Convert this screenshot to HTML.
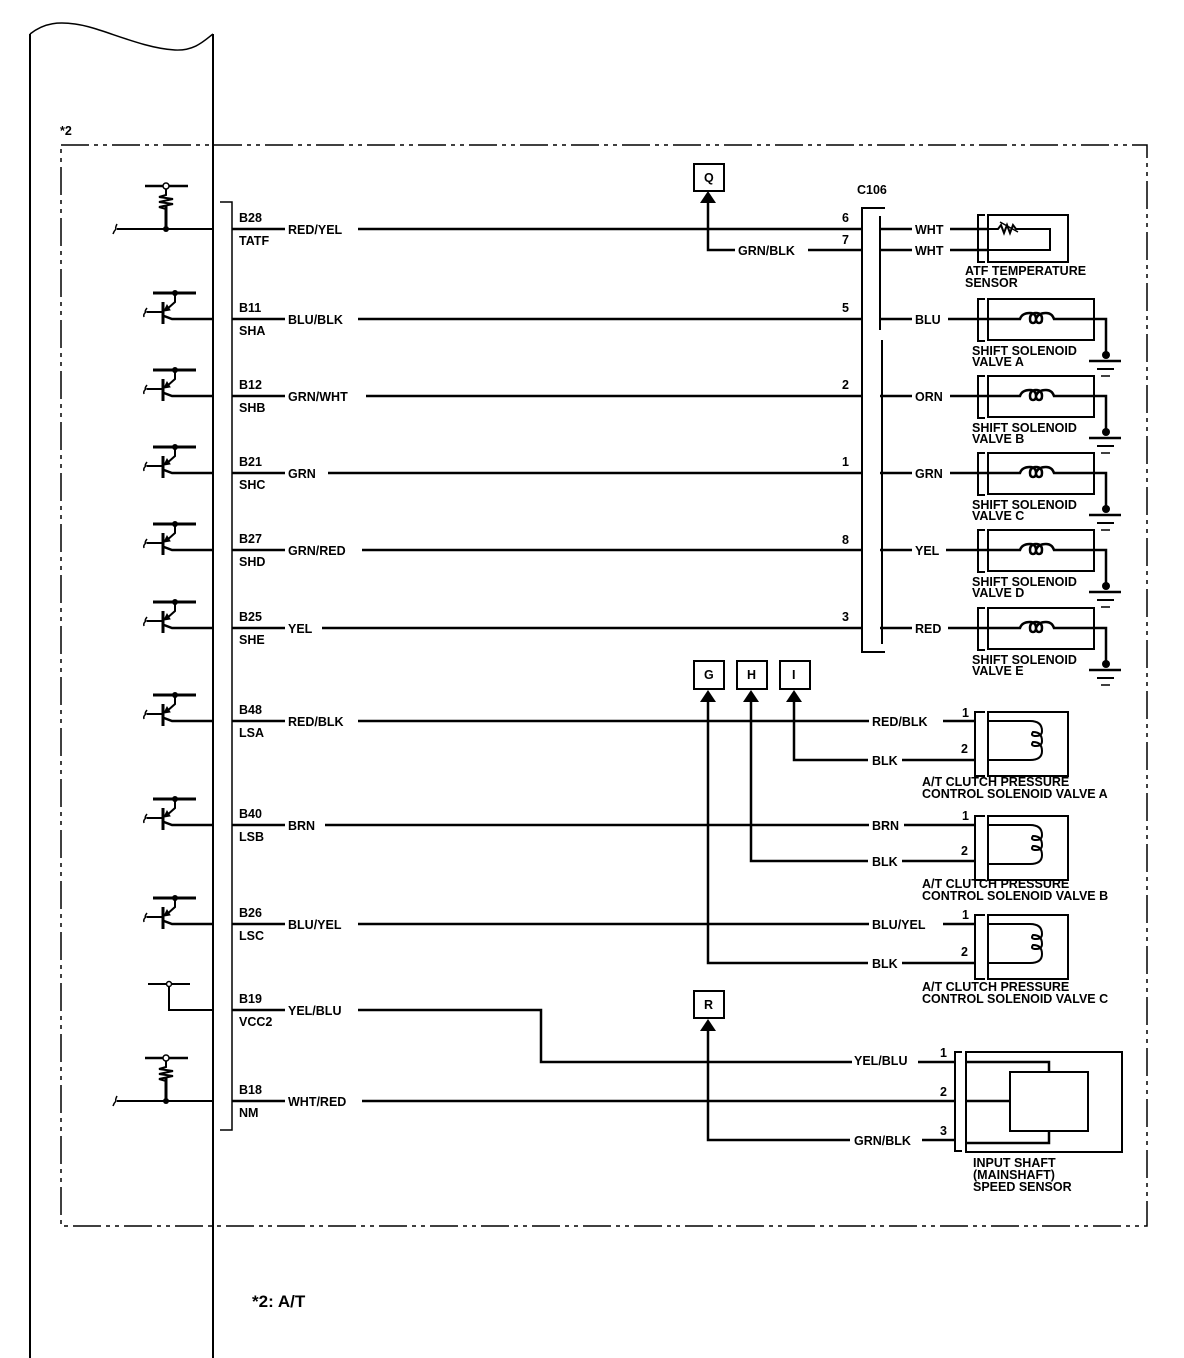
<!DOCTYPE html>
<html><head><meta charset="utf-8"><style>
html,body{margin:0;padding:0;background:#fff}
svg{display:block}
text{font-family:"Liberation Sans",Arial,sans-serif;font-weight:bold;font-size:12.5px;fill:#000}
</style></head><body>
<svg width="1184" height="1358" viewBox="0 0 1184 1358" xmlns="http://www.w3.org/2000/svg">
<defs>
<g id="tr" fill="none" stroke="#000">
<line x1="153" y1="-26" x2="196" y2="-26" stroke-width="3"/>
<circle cx="175" cy="-26" r="3" fill="#000" stroke="none"/>
<path d="M175,-26 V-17 L166,-9" stroke-width="2"/>
<path d="M164,-8 l6,-1 l-3,-5 z" fill="#000" stroke-width="1"/>
<line x1="163" y1="-17" x2="163" y2="5" stroke-width="3"/>
<line x1="147" y1="-7" x2="163" y2="-7" stroke-width="2"/>
<path d="M147,-11 q-3,4 -1,4 q-3,2 -2,5" stroke-width="1.5"/>
<path d="M164,-3 L172,0 H213" stroke-width="2.5"/>
</g>
<g id="ss" fill="none" stroke="#000">
<path d="M985,-20 H978 V22 H985" stroke-width="2"/>
<rect x="988" y="-20" width="106" height="41" stroke-width="2"/>
<path d="M988,0 H1020 q2,-6 10,-6 q6,0 6,6 q0,4 -3,4 q-3,0 -3,-4 q0,-6 6,-6 q6,0 6,6 q0,4 -3,4 q-3,0 -3,-4 q2,-6 10,-6 q6,0 8,6 H1106 V36" stroke-width="2.5"/>
<circle cx="1106" cy="36" r="4" fill="#000" stroke="none"/>
<line x1="1089" y1="42" x2="1121" y2="42" stroke-width="2.5"/>
<line x1="1097" y1="50" x2="1114" y2="50" stroke-width="2"/>
<line x1="1101" y1="57" x2="1110" y2="57" stroke-width="1.5"/>
</g>
<g id="cv" fill="none" stroke="#000">
<path d="M985,-9 H975 V55 H985" stroke-width="2"/>
<rect x="988" y="-9" width="80" height="64" stroke-width="2"/>
<path d="M988,0 H1030 q12,0 12,10 q0,5 -6,5 q-6,0 -3,-4 q9,0 9,9 q0,5 -6,5 q-6,0 -3,-4 q9,0 9,9 q0,9 -12,9 H988" stroke-width="2"/>
</g>
<g id="rs" fill="none" stroke="#000">
<line x1="145" y1="-43" x2="188" y2="-43" stroke-width="2.5"/>
<circle cx="166" cy="-43" r="3" fill="#fff" stroke-width="1.5"/>
<path d="M166,-40 V-34 l-7,2 l14,2 l-14,3 l14,2 l-14,3 l7,2 V0" stroke-width="2"/>
<line x1="166" y1="-23" x2="166" y2="0" stroke-width="3"/>
<circle cx="166" cy="0" r="3" fill="#000" stroke="none"/>
<path d="M117,0 H213" stroke-width="2"/>
<path d="M117,-5 q-2,4 -1,5 q-2,2 -3,5" stroke-width="1.5"/>
</g>
<marker id="ar" viewBox="0 0 10 10" refX="5" refY="0" markerWidth="10" markerHeight="10" orient="auto-start-reverse"></marker>
</defs>

<!-- ECU module outline -->
<path d="M30,34 C45,22 60,22 75,24 C100,27 140,48 175,50 C195,51 205,40 213,34" fill="none" stroke="#000" stroke-width="1.5"/>
<line x1="30" y1="34" x2="30" y2="1358" stroke="#000" stroke-width="2"/>
<line x1="213" y1="34" x2="213" y2="1358" stroke="#000" stroke-width="2"/>

<!-- dashed boundary -->
<rect x="61" y="145" width="1086" height="1081" fill="none" stroke="#000" stroke-width="1.5" stroke-dasharray="28,5,4,5,4,5"/>
<text x="60" y="135">*2</text>
<text x="252" y="1307" style="font-size:17px">*2: A/T</text>

<!-- connector bracket -->
<path d="M220,202 H232 V1130 H220" fill="none" stroke="#000" stroke-width="1.5"/>

<!-- left symbols -->
<use href="#rs" transform="translate(0,229)"/>
<use href="#tr" transform="translate(0,319)"/>
<use href="#tr" transform="translate(0,396)"/>
<use href="#tr" transform="translate(0,473)"/>
<use href="#tr" transform="translate(0,550)"/>
<use href="#tr" transform="translate(0,628)"/>
<use href="#tr" transform="translate(0,721)"/>
<use href="#tr" transform="translate(0,825)"/>
<use href="#tr" transform="translate(0,924)"/>
<g fill="none" stroke="#000" stroke-width="2">
<line x1="148" y1="984" x2="190" y2="984"/>
<path d="M169,986 V1010 H213"/>
</g>
<circle cx="169" cy="984" r="2.5" fill="#fff" stroke="#000" stroke-width="1.5"/>
<use href="#rs" transform="translate(0,1101)"/>

<!-- pin labels -->
<g>
<text x="239" y="222">B28</text><text x="239" y="245">TATF</text><text x="288" y="234">RED/YEL</text>
<text x="239" y="312">B11</text><text x="239" y="335">SHA</text><text x="288" y="324">BLU/BLK</text>
<text x="239" y="389">B12</text><text x="239" y="412">SHB</text><text x="288" y="401">GRN/WHT</text>
<text x="239" y="466">B21</text><text x="239" y="489">SHC</text><text x="288" y="478">GRN</text>
<text x="239" y="543">B27</text><text x="239" y="566">SHD</text><text x="288" y="555">GRN/RED</text>
<text x="239" y="621">B25</text><text x="239" y="644">SHE</text><text x="288" y="633">YEL</text>
<text x="239" y="714">B48</text><text x="239" y="737">LSA</text><text x="288" y="726">RED/BLK</text>
<text x="239" y="818">B40</text><text x="239" y="841">LSB</text><text x="288" y="830">BRN</text>
<text x="239" y="917">B26</text><text x="239" y="940">LSC</text><text x="288" y="929">BLU/YEL</text>
<text x="239" y="1003">B19</text><text x="239" y="1026">VCC2</text><text x="288" y="1015">YEL/BLU</text>
<text x="239" y="1094">B18</text><text x="239" y="1117">NM</text><text x="288" y="1106">WHT/RED</text>
</g>

<!-- wires -->
<g fill="none" stroke="#000" stroke-width="2.5">
<line x1="232" y1="229" x2="285" y2="229"/><line x1="358" y1="229" x2="862" y2="229"/>
<line x1="232" y1="319" x2="285" y2="319"/><line x1="358" y1="319" x2="862" y2="319"/>
<line x1="232" y1="396" x2="285" y2="396"/><line x1="366" y1="396" x2="862" y2="396"/>
<line x1="232" y1="473" x2="285" y2="473"/><line x1="328" y1="473" x2="862" y2="473"/>
<line x1="232" y1="550" x2="285" y2="550"/><line x1="362" y1="550" x2="862" y2="550"/>
<line x1="232" y1="628" x2="285" y2="628"/><line x1="322" y1="628" x2="862" y2="628"/>
<line x1="232" y1="721" x2="285" y2="721"/><line x1="358" y1="721" x2="869" y2="721"/>
<line x1="232" y1="825" x2="285" y2="825"/><line x1="325" y1="825" x2="869" y2="825"/>
<line x1="232" y1="924" x2="285" y2="924"/><line x1="358" y1="924" x2="869" y2="924"/>
<line x1="232" y1="1010" x2="285" y2="1010"/><path d="M358,1010 H541 V1062 H852"/>
<line x1="232" y1="1101" x2="285" y2="1101"/><line x1="362" y1="1101" x2="955" y2="1101"/>
<!-- Q -->
<path d="M708,200 V250 H735"/><line x1="808" y1="250" x2="862" y2="250"/>
<!-- G H I -->
<path d="M708,697 V963 H868"/>
<path d="M751,697 V861 H868"/>
<path d="M794,697 V760 H868"/>
<!-- R -->
<path d="M708,1028 V1140 H850"/>
<!-- right of C106 -->
<line x1="880" y1="229" x2="912" y2="229"/><line x1="950" y1="229" x2="988" y2="229"/>
<line x1="880" y1="250" x2="912" y2="250"/><line x1="950" y1="250" x2="988" y2="250"/>
<line x1="880" y1="319" x2="912" y2="319"/><line x1="948" y1="319" x2="988" y2="319"/>
<line x1="880" y1="396" x2="912" y2="396"/><line x1="950" y1="396" x2="988" y2="396"/>
<line x1="880" y1="473" x2="912" y2="473"/><line x1="950" y1="473" x2="988" y2="473"/>
<line x1="880" y1="550" x2="912" y2="550"/><line x1="946" y1="550" x2="988" y2="550"/>
<line x1="880" y1="628" x2="912" y2="628"/><line x1="948" y1="628" x2="988" y2="628"/>
<!-- clutch -->
<line x1="943" y1="721" x2="975" y2="721"/><line x1="902" y1="760" x2="975" y2="760"/>
<line x1="904" y1="825" x2="975" y2="825"/><line x1="902" y1="861" x2="975" y2="861"/>
<line x1="943" y1="924" x2="975" y2="924"/><line x1="902" y1="963" x2="975" y2="963"/>
<line x1="918" y1="1062" x2="955" y2="1062"/>
<line x1="922" y1="1140" x2="955" y2="1140"/>
</g>
<!-- arrows -->
<g fill="#000">
<path d="M708,191 l-8,12 h16 z"/>
<path d="M708,690 l-8,12 h16 z"/>
<path d="M751,690 l-8,12 h16 z"/>
<path d="M794,690 l-8,12 h16 z"/>
<path d="M708,1019 l-8,12 h16 z"/>
</g>
<!-- connector boxes -->
<g fill="#fff" stroke="#000" stroke-width="2">
<rect x="694" y="164" width="30" height="27"/>
<rect x="694" y="661" width="30" height="28"/>
<rect x="737" y="661" width="30" height="28"/>
<rect x="780" y="661" width="30" height="28"/>
<rect x="694" y="991" width="30" height="27"/>
</g>
<text x="704" y="182">Q</text>
<text x="704" y="679">G</text>
<text x="747" y="679">H</text>
<text x="792" y="679">I</text>
<text x="704" y="1009">R</text>
<text x="738" y="255">GRN/BLK</text>

<!-- C106 -->
<path d="M885,208 H862 V652 H885" fill="none" stroke="#000" stroke-width="2"/>
<line x1="880" y1="216" x2="880" y2="330" stroke="#000" stroke-width="2"/>
<line x1="882" y1="340" x2="882" y2="644" stroke="#000" stroke-width="2"/>
<text x="857" y="194">C106</text>
<text x="842" y="222">6</text><text x="842" y="244">7</text>
<text x="842" y="312">5</text><text x="842" y="389">2</text>
<text x="842" y="466">1</text><text x="842" y="544">8</text>
<text x="842" y="621">3</text>
<text x="915" y="234">WHT</text><text x="915" y="255">WHT</text>
<text x="915" y="324">BLU</text><text x="915" y="401">ORN</text>
<text x="915" y="478">GRN</text><text x="915" y="555">YEL</text>
<text x="915" y="633">RED</text>

<!-- ATF sensor -->
<g fill="none" stroke="#000" stroke-width="2">
<path d="M985,215 H978 V262 H985"/>
<rect x="988" y="215" width="80" height="47"/>
<path d="M988,229 H998 l3,-4 l3,8 l3,-8 l3,8 l3,-8 l3,4 H1050 V250 H988" stroke-width="2"/>
<path d="M1000,222 l18,10" stroke-width="1.5"/>
</g>
<text x="965" y="275">ATF TEMPERATURE</text>
<text x="965" y="287">SENSOR</text>

<!-- shift solenoids -->
<use href="#ss" transform="translate(0,319)"/>
<use href="#ss" transform="translate(0,396)"/>
<use href="#ss" transform="translate(0,473)"/>
<use href="#ss" transform="translate(0,550)"/>
<use href="#ss" transform="translate(0,628)"/>
<text x="972" y="355">SHIFT SOLENOID</text><text x="972" y="366">VALVE A</text>
<text x="972" y="432">SHIFT SOLENOID</text><text x="972" y="443">VALVE B</text>
<text x="972" y="509">SHIFT SOLENOID</text><text x="972" y="520">VALVE C</text>
<text x="972" y="586">SHIFT SOLENOID</text><text x="972" y="597">VALVE D</text>
<text x="972" y="664">SHIFT SOLENOID</text><text x="972" y="675">VALVE E</text>

<!-- clutch valves -->
<use href="#cv" transform="translate(0,721)"/>
<use href="#cv" transform="translate(0,825)"/>
<use href="#cv" transform="translate(0,924)"/>
<text x="872" y="726">RED/BLK</text><text x="872" y="765">BLK</text>
<text x="962" y="717">1</text><text x="961" y="753">2</text>
<text x="922" y="786">A/T CLUTCH PRESSURE</text><text x="922" y="798">CONTROL SOLENOID VALVE A</text>
<text x="872" y="830">BRN</text><text x="872" y="866">BLK</text>
<text x="962" y="820">1</text><text x="961" y="855">2</text>
<text x="922" y="888">A/T CLUTCH PRESSURE</text><text x="922" y="900">CONTROL SOLENOID VALVE B</text>
<text x="872" y="929">BLU/YEL</text><text x="872" y="968">BLK</text>
<text x="962" y="919">1</text><text x="961" y="956">2</text>
<text x="922" y="991">A/T CLUTCH PRESSURE</text><text x="922" y="1003">CONTROL SOLENOID VALVE C</text>

<!-- input shaft sensor -->
<g fill="none" stroke="#000" stroke-width="2">
<path d="M962,1052 H955 V1151 H962"/>
<rect x="966" y="1052" width="156" height="100"/>
<rect x="1010" y="1072" width="78" height="59"/>
<path d="M966,1062 H1049 V1072" stroke-width="2.5"/>
<path d="M966,1101 H1010" stroke-width="2.5"/>
<path d="M966,1143 H1049 V1131" stroke-width="2.5"/>
</g>
<text x="854" y="1065">YEL/BLU</text>
<text x="854" y="1145">GRN/BLK</text>
<text x="940" y="1057">1</text><text x="940" y="1096">2</text><text x="940" y="1135">3</text>
<text x="973" y="1167">INPUT SHAFT</text>
<text x="973" y="1179">(MAINSHAFT)</text>
<text x="973" y="1191">SPEED SENSOR</text>
</svg>
</body></html>
